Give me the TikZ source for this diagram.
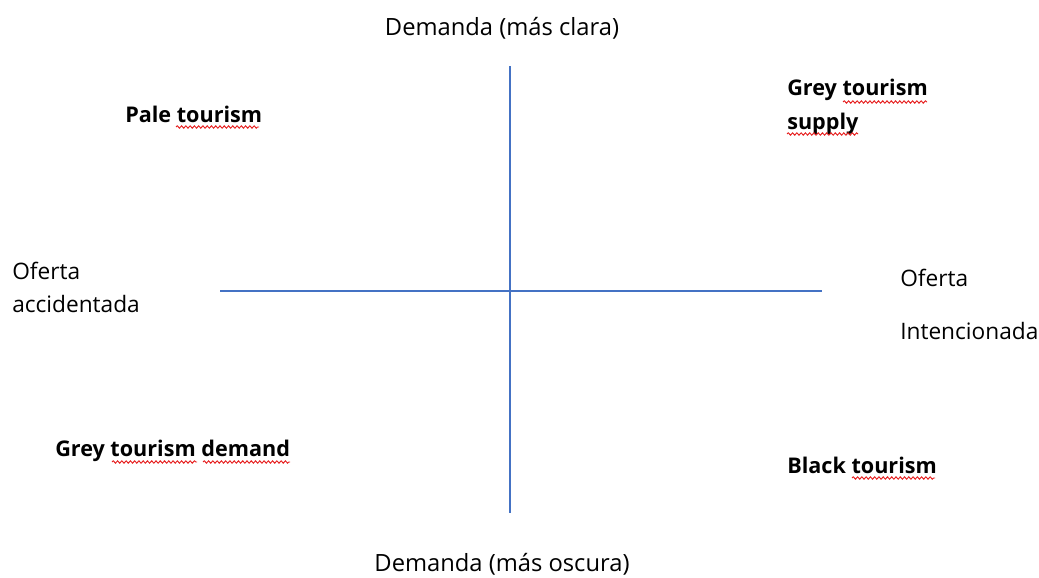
\documentclass[tikz,border=0pt]{standalone}
\usepackage{fontspec}
\setmainfont{Open Sans}
\usetikzlibrary{decorations.pathmorphing}
\definecolor{axiscolor}{RGB}{68,114,196}
\definecolor{spellred}{RGB}{230,30,30}

\begin{document}
\begin{tikzpicture}[x=0.75pt,y=-0.75pt,
  axis/.style={draw=axiscolor,line width=0.9pt},
  lbl/.style={anchor=base west,inner sep=0pt,font=\fontsize{17}{20}\selectfont},
  quad/.style={lbl,font=\fontsize{16.2}{19}\selectfont\bfseries},
  squig/.style={draw=spellred,line width=0.7pt,decorate,
    decoration={snake,segment length=3.2pt,amplitude=0.9pt}}]
\useasboundingbox (0,0) rectangle (1039,578);
% axes
\coordinate (top) at (510,66);
\coordinate (bottom) at (510,513);
\coordinate (left) at (220,291);
\coordinate (right) at (822,291);
\draw[axis] (top) -- (bottom);
\draw[axis] (left) -- (right);
% axis labels
\node[lbl,anchor=base,font=\fontsize{17.8}{20}\selectfont] (demclara) at (502,35) {Demanda (más clara)};
\node[lbl,anchor=base,font=\fontsize{17.8}{20}\selectfont] (demoscura) at (502,571) {Demanda (más oscura)};
\node[lbl] (ofacc1) at (12,279) {Oferta};
\node[lbl] (ofacc2) at (12,312) {accidentada};
\node[lbl] (ofint1) at (900,286) {Oferta};
\node[lbl] (ofint2) at (900,339) {Intencionada};
% quadrants
\node[quad] (pale) at (125,122) {Pale tourism};
\node[quad] (greysup1) at (787,95) {Grey tourism};
\node[quad] (greysup2) at (787,129) {supply};
\node[quad] (greydem) at (55,456) {Grey tourism demand};
\node[quad] (black) at (787,473) {Black tourism};
% spelling marks
\draw[squig] (176,127) -- (259,127);
\draw[squig] (843,102) -- (927,102);
\draw[squig] (787,134) -- (858,134);
\draw[squig] (112,462) -- (197,462);
\draw[squig] (203,462) -- (290,462);
\draw[squig] (852,478) -- (935,478);
\end{tikzpicture}
\end{document}
